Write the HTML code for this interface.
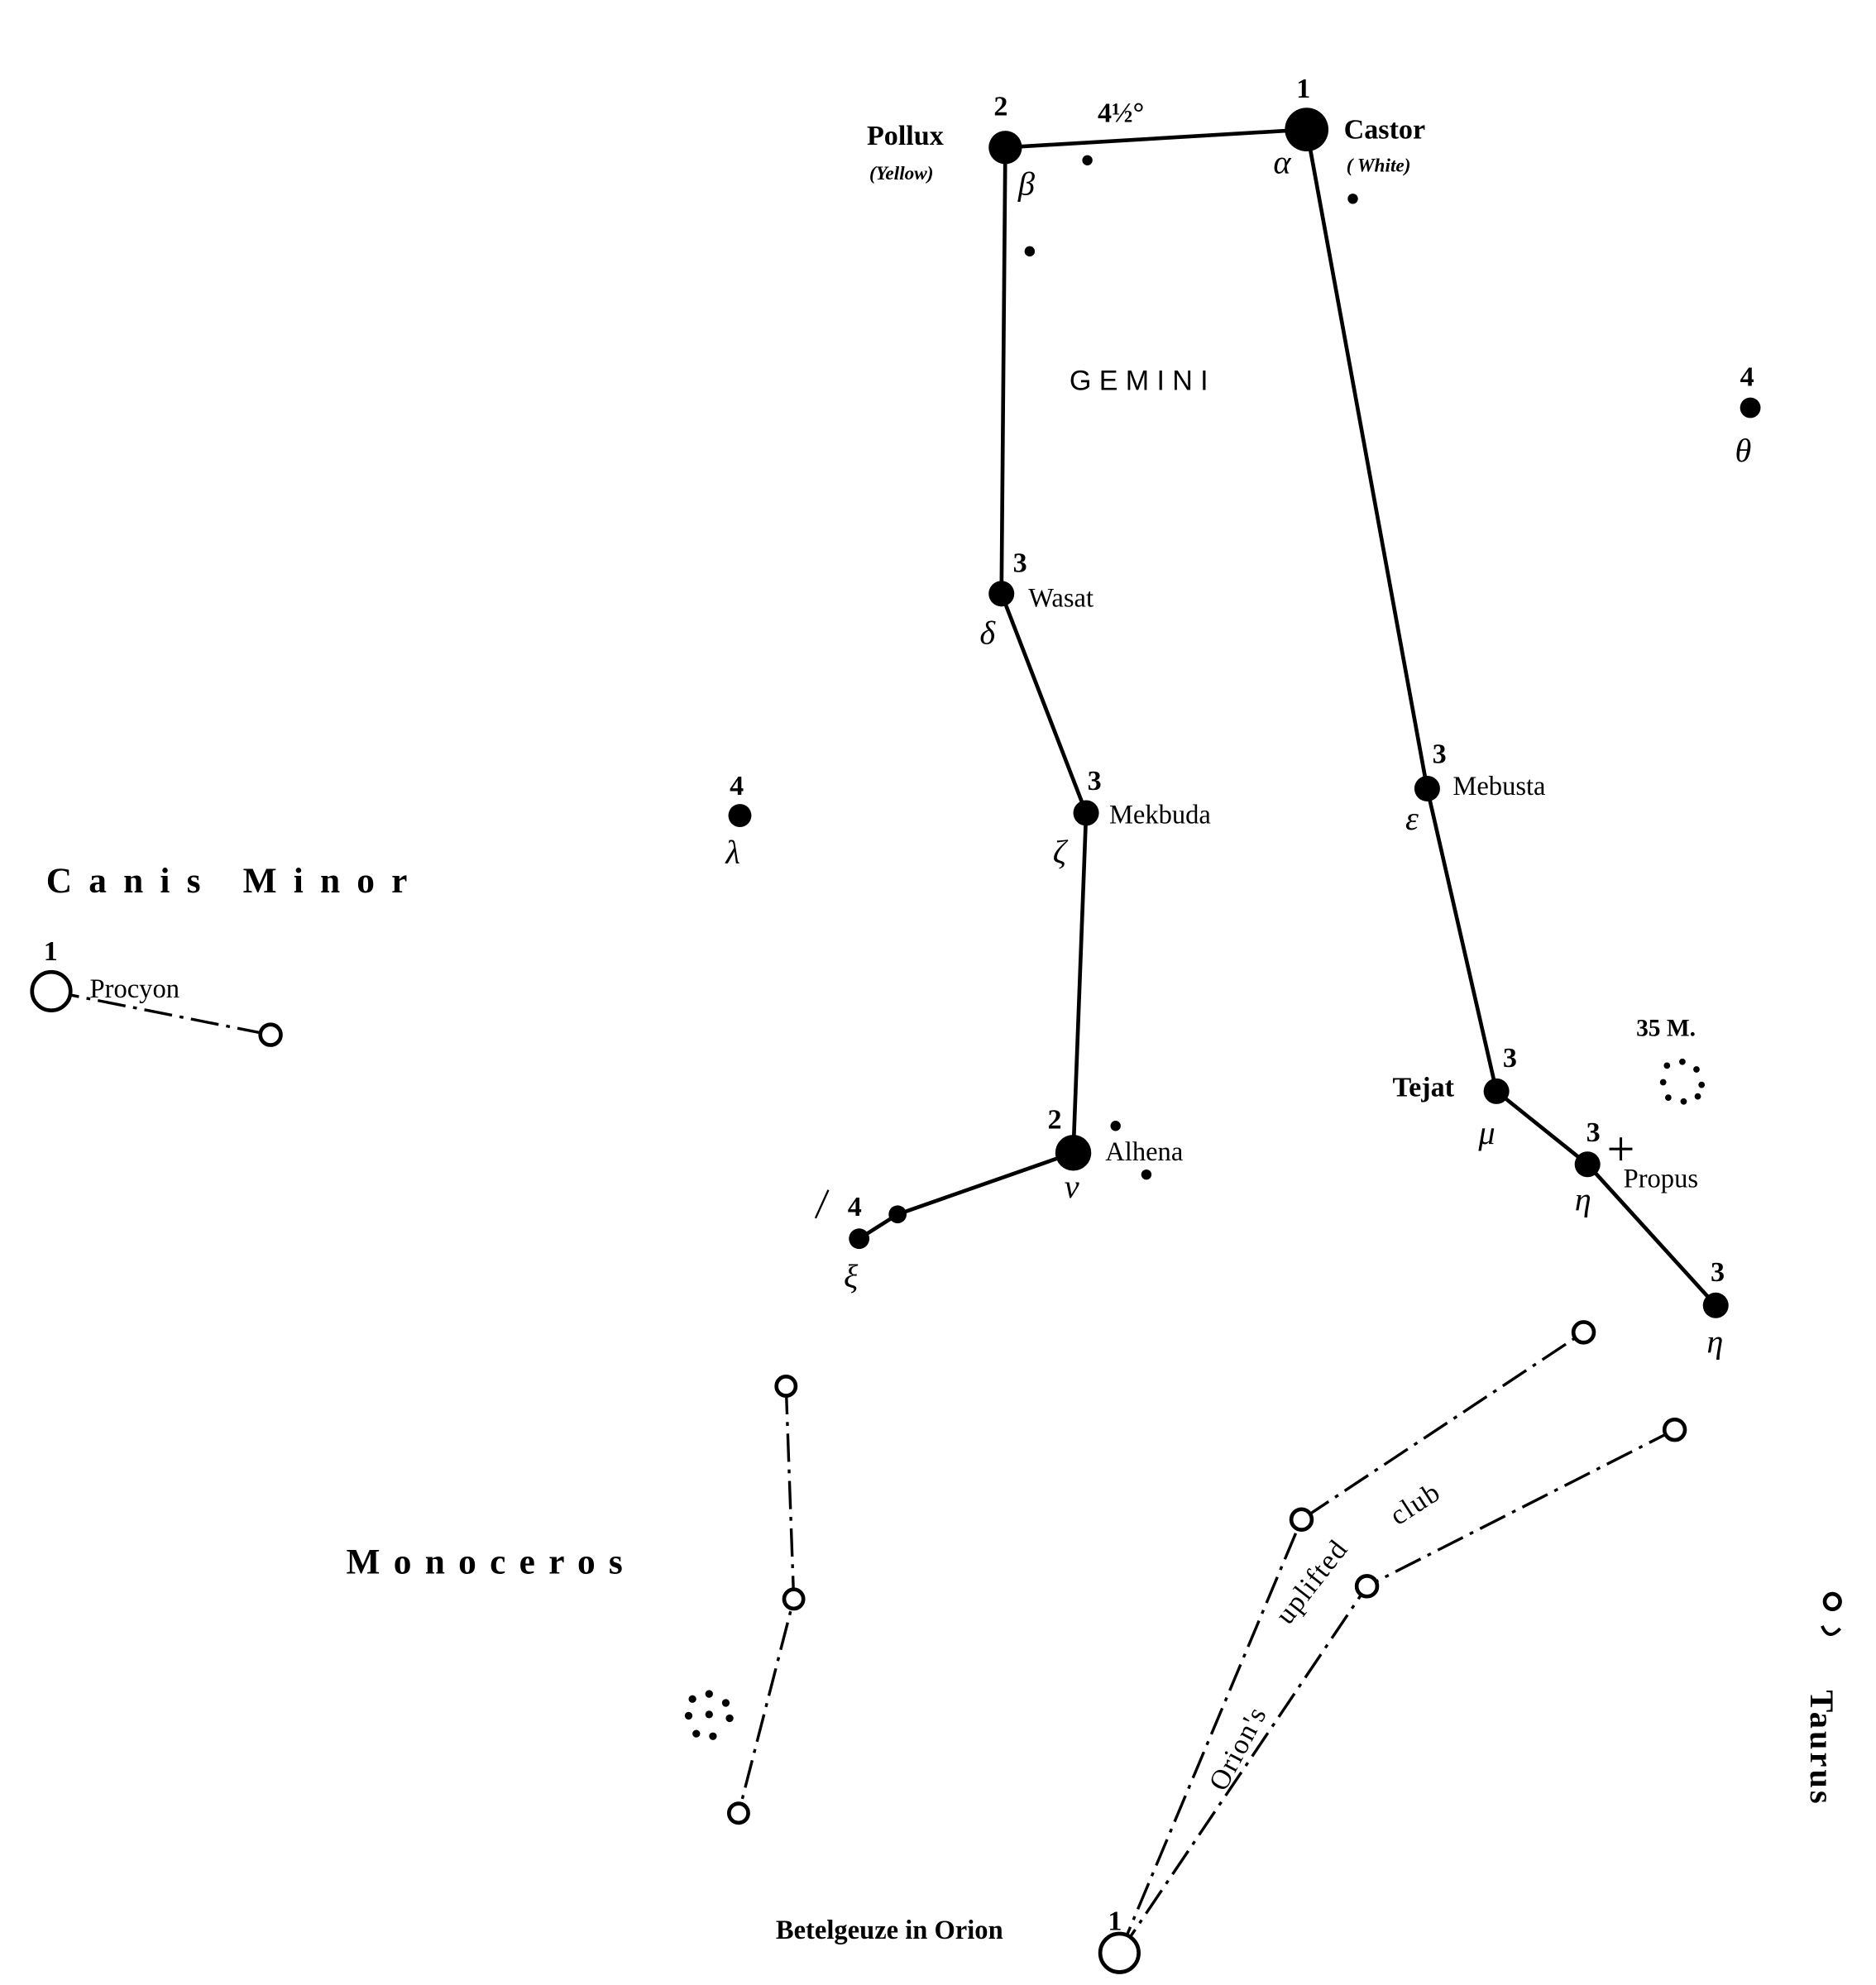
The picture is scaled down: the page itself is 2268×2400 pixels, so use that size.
<!DOCTYPE html>
<html><head><meta charset="utf-8"><style>
html,body{margin:0;padding:0;background:#fff;}
svg{display:block;}
text{font-family:"Liberation Serif",serif;fill:#000;}
.b{font-weight:bold;}
.s{font-family:"Liberation Sans",sans-serif;}
</style></head><body>
<svg width="2268" height="2400" viewBox="0 0 1463 1548" preserveAspectRatio="none" xmlns="http://www.w3.org/2000/svg">
<g stroke="#000" stroke-width="3" fill="none">
<polyline points="784,115 1019,101"/>
<polyline points="784,115 781,463 847,634 837,899 700,947 670,966"/>
<polyline points="1019,101 1113,615 1167,851 1238,908 1338,1018"/>
</g>
<g stroke="#000" stroke-width="2.2" fill="none" stroke-dasharray="22,6,3,6">
<line x1="40" y1="773" x2="211" y2="807"/>
<polyline points="613,1081 619,1247 576,1414"/>
<polyline points="873,1523 1015,1185 1235,1039"/>
<polyline points="873,1523 1066,1237 1306,1115"/>
</g>
<g fill="#000">
<circle cx="1019" cy="101" r="17"/>
<circle cx="784" cy="115" r="13"/>
<circle cx="781" cy="463" r="10"/>
<circle cx="847" cy="634" r="10"/>
<circle cx="837" cy="899" r="14"/>
<circle cx="700" cy="947" r="7"/>
<circle cx="670" cy="966" r="8"/>
<circle cx="1113" cy="615" r="10"/>
<circle cx="1167" cy="851" r="10"/>
<circle cx="1238" cy="908" r="10"/>
<circle cx="1338" cy="1018" r="10"/>
<circle cx="1365" cy="318" r="8"/>
<circle cx="577" cy="636" r="9"/>
<circle cx="848" cy="125" r="4"/>
<circle cx="1055" cy="155" r="4"/>
<circle cx="803" cy="196" r="4"/>
<circle cx="870" cy="878" r="4"/>
<circle cx="894" cy="916" r="4"/>
<circle cx="540" cy="1325" r="3"/><circle cx="553" cy="1321" r="3"/><circle cx="566" cy="1328" r="3"/>
<circle cx="537" cy="1338" r="3"/><circle cx="553" cy="1337" r="3"/><circle cx="569" cy="1340" r="3"/>
<circle cx="543" cy="1352" r="3"/><circle cx="556" cy="1354" r="3"/>
<circle cx="1300" cy="831" r="2.5"/><circle cx="1312" cy="828" r="2.5"/><circle cx="1323" cy="834" r="2.5"/>
<circle cx="1297" cy="844" r="2.5"/><circle cx="1327" cy="846" r="2.5"/>
<circle cx="1301" cy="856" r="2.5"/><circle cx="1313" cy="859" r="2.5"/><circle cx="1324" cy="855" r="2.5"/>
</g>
<g fill="#fff" stroke="#000" stroke-width="3">
<circle cx="40" cy="773" r="15"/>
<circle cx="211" cy="807" r="8"/>
<circle cx="613" cy="1081" r="7.5"/>
<circle cx="619" cy="1247" r="7.5"/>
<circle cx="576" cy="1414" r="7.5"/>
<circle cx="873" cy="1523" r="15"/>
<circle cx="1015" cy="1185" r="8"/>
<circle cx="1235" cy="1039" r="8"/>
<circle cx="1066" cy="1237" r="8"/>
<circle cx="1306" cy="1115" r="8"/>
<circle cx="1429" cy="1249" r="6"/>
</g>
<line x1="1264" y1="887" x2="1264" y2="905" stroke="#000" stroke-width="2"/>
<line x1="1255" y1="896" x2="1273" y2="896" stroke="#000" stroke-width="2"/>
<path d="M1421,1268 q5,12 14,2" stroke="#000" stroke-width="2.5" fill="none"/>
<path d="M636,950 l10,-22" stroke="#000" stroke-width="1.5"/>

<g font-size="22" class="b">
<text x="1011" y="76">1</text>
<text x="775" y="90">2</text>
<text x="676" y="113">Pollux</text>
<text x="1048" y="108">Castor</text>
<text x="856" y="95">4½°</text>
<text x="790" y="446">3</text>
<text x="848" y="616">3</text>
<text x="817" y="880">2</text>
<text x="661" y="948">4</text>
<text x="1117" y="595">3</text>
<text x="1172" y="832">3</text>
<text x="1237" y="890">3</text>
<text x="1334" y="999">3</text>
<text x="1357" y="301">4</text>
<text x="569" y="620">4</text>
<text x="34" y="749">1</text>
<text x="864" y="1505">1</text>
<text x="1086" y="855">Tejat</text>
<text x="1276" y="808" font-size="19">35 M.</text>
<text x="605" y="1512" font-size="21">Betelgeuze in Orion</text>
</g>
<g font-size="15" font-style="italic" class="b">
<text x="678" y="140">(Yellow)</text>
<text x="1050" y="134">( White)</text>
</g>
<g font-size="21">
<text x="802" y="473">Wasat</text>
<text x="865" y="642">Mekbuda</text>
<text x="862" y="905">Alhena</text>
<text x="1133" y="620">Mebusta</text>
<text x="1266" y="926">Propus</text>
<text x="70" y="778">Procyon</text>
</g>
<g font-size="26" font-style="italic">
<text x="794" y="152">β</text>
<text x="993" y="135">α</text>
<text x="764" y="502">δ</text>
<text x="821" y="673">ζ</text>
<text x="830" y="934">ν</text>
<text x="658" y="1004">ξ</text>
<text x="1096" y="647">ε</text>
<text x="1153" y="892">μ</text>
<text x="1228" y="944">η</text>
<text x="1331" y="1055">η</text>
<text x="1353" y="360">θ</text>
<text x="566" y="673">λ</text>
</g>
<text x="834" y="304" font-size="22" class="s" letter-spacing="6">GEMINI</text>
<text x="36" y="696" font-size="28" class="b" letter-spacing="13">Canis  Minor</text>
<text x="270" y="1227" font-size="28" class="b" letter-spacing="10.5">Monoceros</text>
<text transform="translate(1412,1318) rotate(90)" font-size="26" class="b" letter-spacing="2">Taurus</text>
<text transform="translate(955,1398) rotate(-62)" font-size="22" letter-spacing="1">Orion's</text>
<text transform="translate(1005,1268) rotate(-52)" font-size="22" letter-spacing="1">uplifted</text>
<text transform="translate(1090,1190) rotate(-33)" font-size="22" letter-spacing="1">club</text>
</svg>
</body></html>
